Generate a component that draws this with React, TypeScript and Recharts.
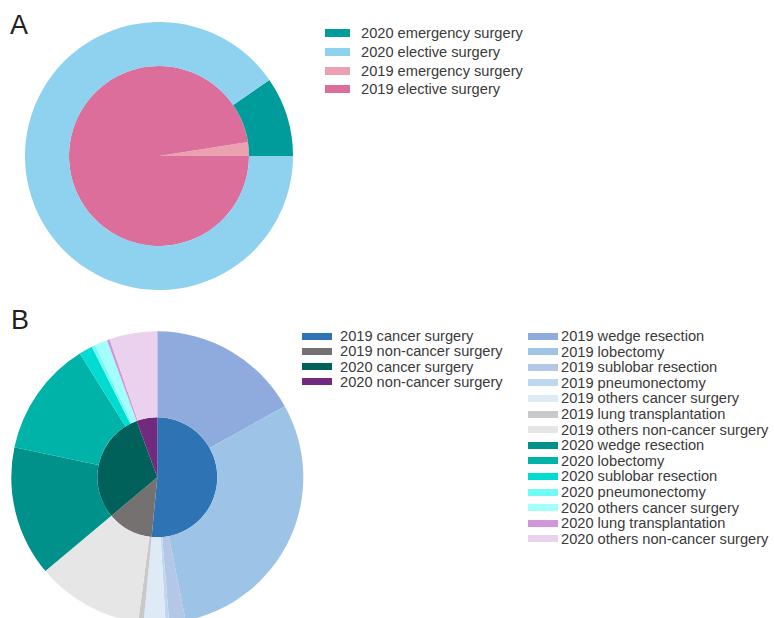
import React from 'react';
import { PieChart, Pie, Cell } from 'recharts';

// ---- Panel A data ----
const aLegendNames = ['2020 emergency surgery', '2020 elective surgery', '2019 emergency surgery', '2019 elective surgery'];
const aLegendColors = ['#009c9c', '#8fd2ef', '#eba1af', '#dc6e9b'];
const a2020Names = ['2020 emergency surgery', '2020 elective surgery'];
const a2020Values = [9.6, 90.4];
const a2020Colors = ['#009c9c', '#8fd2ef'];
const a2019Names = ['2019 emergency surgery', '2019 elective surgery'];
const a2019Values = [2.5, 97.5];
const a2019Colors = ['#eba1af', '#dc6e9b'];

// ---- Panel B data ----
const bInnerNames = ['2019 cancer surgery', '2019 non-cancer surgery', '2020 cancer surgery', '2020 non-cancer surgery'];
const bInnerValues = [51.5, 12.4, 30.5, 5.6];
const bInnerColors = ['#2e74b5', '#767171', '#00605a', '#722a7e'];

const bOuterNames = [
  '2019 wedge resection',
  '2019 lobectomy',
  '2019 sublobar resection',
  '2019 pneumonectomy',
  '2019 others cancer surgery',
  '2019 lung transplantation',
  '2019 others non-cancer surgery',
  '2020 wedge resection',
  '2020 lobectomy',
  '2020 sublobar resection',
  '2020 pneumonectomy',
  '2020 others cancer surgery',
  '2020 lung transplantation',
  '2020 others non-cancer surgery',
];
const bOuterValues = [16.9, 30.0, 1.8, 0.4, 2.4, 0.6, 11.8, 14.4, 12.8, 1.5, 0.4, 1.4, 0.3, 5.3];
const bOuterColors = [
  '#8faadc', '#9dc3e6', '#b4c7e7', '#bdd7ee', '#deebf7', '#c9c9c9', '#e7e6e6',
  '#00928a', '#00b3a8', '#00dcd2', '#70fcf4', '#a2fffa', '#d296da', '#ead1ed',
];

const toData = (names: string[], values: number[]) => names.map((n, i) => ({ name: n, value: values[i] }));

type LegendProps = {
  names: string[];
  colors: string[];
  left: number;
  top: number;
  rowH: number;
  swW: number;
  swH: number;
  textX: number;
};

const Legend = ({ names, colors, left, top, rowH, swW, swH, textX }: LegendProps) => (
  <div style={{ position: 'absolute', left, top }}>
    {names.map((n, i) => (
      <div key={n} style={{ position: 'absolute', left: 0, top: i * rowH - 9, height: 18, width: 260 }}>
        <div style={{ position: 'absolute', left: 0, top: 9 - swH / 2, width: swW, height: swH, background: colors[i] }} />
        <div
          style={{
            position: 'absolute',
            left: textX,
            top: 0,
            height: 18,
            lineHeight: '18px',
            fontSize: 14,
            color: '#3a3a3a',
            whiteSpace: 'nowrap',
            transform: 'scaleX(1.045)',
            transformOrigin: 'left center',
          }}
        >
          {n}
        </div>
      </div>
    ))}
  </div>
);

const zero = { top: 0, right: 0, bottom: 0, left: 0 };

export default function App() {
  return (
    <div
      style={{
        position: 'absolute',
        left: 0,
        top: 0,
        width: 774,
        height: 618,
        overflow: 'hidden',
        background: '#ffffff',
        fontFamily: '"Liberation Sans", Arial, sans-serif',
      }}
    >
      {/* Panel labels */}
      <div style={{ position: 'absolute', left: 10, top: 10, fontSize: 27, lineHeight: '30px', color: '#231f20' }}>A</div>
      <div style={{ position: 'absolute', left: 11, top: 305, fontSize: 27, lineHeight: '30px', color: '#231f20' }}>B</div>

      {/* Panel A */}
      <div style={{ position: 'absolute', left: 0, top: 0 }}>
        <PieChart width={300} height={300} margin={zero}>
          <Pie
            data={toData(a2019Names, a2019Values)}
            dataKey="value"
            cx={159}
            cy={156}
            innerRadius={0}
            outerRadius={90}
            startAngle={0}
            endAngle={360}
            stroke="none"
            isAnimationActive={false}
          >
            {a2019Colors.map((c, i) => (
              <Cell key={i} fill={c} />
            ))}
          </Pie>
          <Pie
            data={toData(a2020Names, a2020Values)}
            dataKey="value"
            cx={159}
            cy={156}
            innerRadius={90}
            outerRadius={134}
            startAngle={0}
            endAngle={360}
            stroke="none"
            isAnimationActive={false}
          >
            {a2020Colors.map((c, i) => (
              <Cell key={i} fill={c} />
            ))}
          </Pie>
        </PieChart>
      </div>
      <Legend names={aLegendNames} colors={aLegendColors} left={325} top={33} rowH={18.8} swW={25} swH={8} textX={36} />

      {/* Panel B */}
      <div style={{ position: 'absolute', left: 0, top: 300 }}>
        <PieChart width={310} height={330} margin={zero}>
          <Pie
            data={toData(bInnerNames, bInnerValues)}
            dataKey="value"
            cx={157.3}
            cy={177.3}
            innerRadius={0}
            outerRadius={60}
            startAngle={90}
            endAngle={-270}
            stroke="none"
            isAnimationActive={false}
          >
            {bInnerColors.map((c, i) => (
              <Cell key={i} fill={c} />
            ))}
          </Pie>
          <Pie
            data={toData(bOuterNames, bOuterValues)}
            dataKey="value"
            cx={157.3}
            cy={177.3}
            innerRadius={60}
            outerRadius={146}
            startAngle={90}
            endAngle={-270}
            stroke="none"
            isAnimationActive={false}
          >
            {bOuterColors.map((c, i) => (
              <Cell key={i} fill={c} />
            ))}
          </Pie>
        </PieChart>
      </div>
      <Legend names={bInnerNames} colors={bInnerColors} left={302} top={336} rowH={15.3} swW={30} swH={7} textX={38} />
      <Legend names={bOuterNames} colors={bOuterColors} left={528} top={336} rowH={15.6} swW={30} swH={7} textX={33} />
    </div>
  );
}
